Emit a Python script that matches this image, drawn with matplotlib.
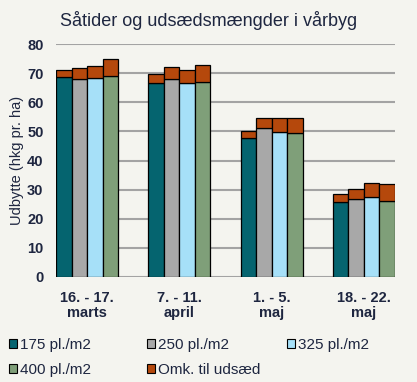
import numpy as np
import matplotlib.pyplot as plt
from matplotlib.patches import Patch

plt.rcParams['font.family'] = ['Liberation Sans', 'DejaVu Sans']

# data
categories = ["16. - 17.\nmarts", "7. - 11.\napril", "1. - 5.\nmaj", "18. - 22.\nmaj"]
series = ["175 pl./m2", "250 pl./m2", "325 pl./m2", "400 pl./m2"]
netto = [
    [68.5, 66.6, 47.7, 25.9],   # 175
    [68.1, 68.1, 51.1, 26.8],   # 250
    [68.3, 66.6, 49.9, 27.6],   # 325
    [69.1, 67.1, 49.4, 26.2],   # 400
]
omk = [
    [2.5, 3.1, 2.6, 2.7],
    [3.6, 4.0, 3.6, 3.4],
    [4.2, 4.4, 4.8, 4.6],
    [5.7, 5.6, 5.3, 5.8],
]
colors = ["#05646F", "#A8A8A8", "#A6E0F8", "#7F9F79"]
omk_color = "#B5480C"
bg = "#F4F4EF"
txt = "#1E2640"

fig = plt.figure(figsize=(4.17, 3.82), dpi=100, facecolor=bg)
ax = fig.add_axes([56/417, 1 - 277/382, 339/417, 233/382])
ax.set_facecolor(bg)

x = np.arange(len(categories))
w = 0.168
for i, s in enumerate(series):
    pos = x + (i - 1.5) * w
    ax.bar(pos, netto[i], w, color=colors[i], edgecolor="black", linewidth=0.9, zorder=3)
    ax.bar(pos, omk[i], w, bottom=netto[i], color=omk_color, edgecolor="black", linewidth=0.9, zorder=3)

ax.set_ylim(0, 80)
ax.set_yticks(range(0, 81, 10))
ax.set_xlim(-0.336, 3.336)
ax.yaxis.grid(True, color="#A3A3A3", linewidth=1.5, zorder=0)
for sp in ax.spines.values():
    sp.set_visible(False)
ax.tick_params(length=0, labelsize=10.5, colors=txt)
ax.tick_params(axis="y", pad=9)
ax.tick_params(axis="x", pad=10)
ax.set_xticks(x)
ax.set_xticklabels(categories, linespacing=1.1)
for lab in ax.get_xticklabels() + ax.get_yticklabels():
    lab.set_fontweight("bold")
ax.set_ylabel("Udbytte (hkg pr. ha)", fontsize=10.5, color=txt, labelpad=2)

fig.text(0.5, 1 - 20/382, "Såtider og udsædsmængder i vårbyg", ha="center", va="center",
         fontsize=13, color=txt)

# legend, laid out as three columns
handles = [Patch(facecolor=c, edgecolor="black", linewidth=0.8) for c in colors]
omk_h = Patch(facecolor=omk_color, edgecolor="black", linewidth=0.8)
cols = [
    ([handles[0], handles[3]], [series[0], series[3]], 9),
    ([handles[1], omk_h], [series[1], "Omk. til udsæd"], 147),
    ([handles[2]], [series[2]], 287),
]
for h, l, xpx in cols:
    leg = fig.legend(h, l, loc="upper left", bbox_to_anchor=(xpx/417, 1 - 338/382),
                     frameon=False, fontsize=11, handlelength=0.5, handleheight=0.5,
                     handletextpad=0.2, labelspacing=0.72, borderaxespad=0.0, borderpad=0.0,
                     labelcolor=txt)

fig.savefig("out.png", dpi=100, facecolor=bg)
